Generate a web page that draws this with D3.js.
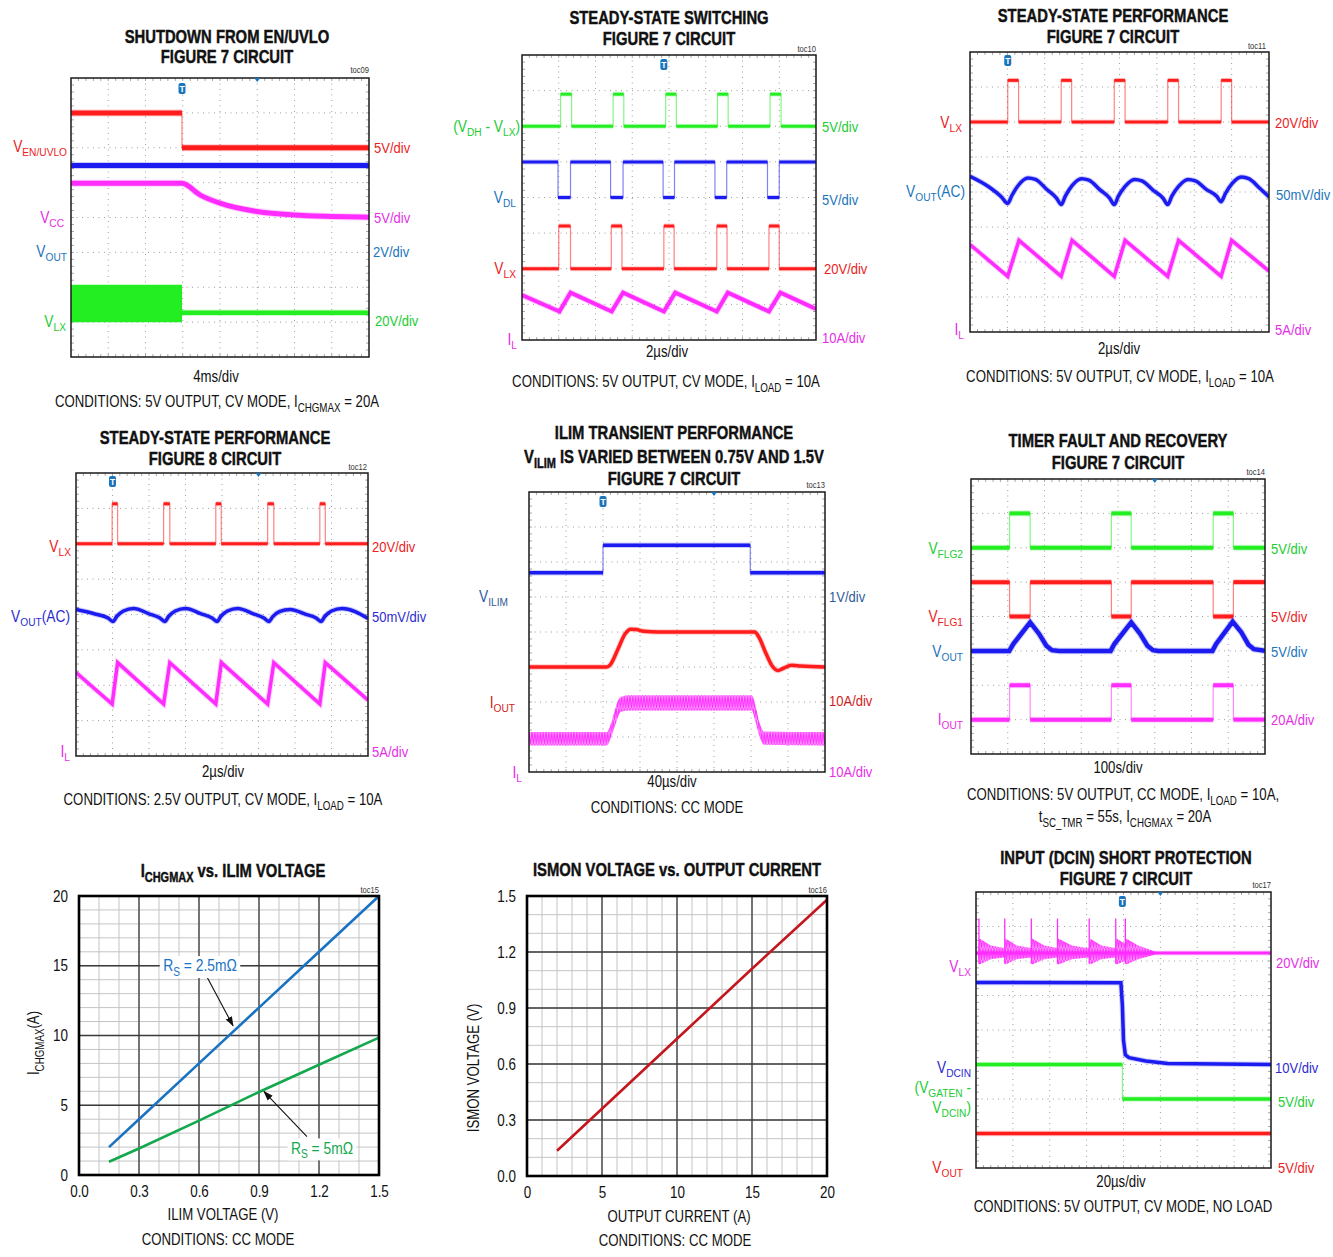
<!DOCTYPE html>
<html>
<head>
<meta charset="utf-8">
<script src="https://cdn.jsdelivr.net/npm/d3@7"></script>
<style>
body{margin:0;background:#fff}
text{font-family:"Liberation Sans",Arial,sans-serif}
</style>
</head>
<body>
<svg id="chart" width="1333" height="1257"></svg>
<script>

// scope traces: [x, y] in divisions, x 0..8 left to right, y 0..8 top to bottom

// toc09 shutdown from EN/UVLO
const toc09_en = [[0,1.0],[2.98,2.0],[8,2.0]]
const toc09_vout = [[0,2.51],[8,2.51]]
const toc09_vcc = [[0,3.02],[2.98,3.02],[3.46,3.35],[4,3.59],[5,3.83],[6,3.93],[7,3.97],[8,3.99]]
const toc09_lxBand = [[0,5.93,7.0],[2.98,5.93,7.0]]
const toc09_lx = [[2.98,6.73],[8,6.73]]

// toc10 steady-state switching
const toc10_dhlx = [[0,2.0],[1.05,1.1],[1.35,2.0],[2.48,1.1],[2.77,2.0],[3.91,1.1],[4.2,2.0],[5.32,1.1],[5.61,2.0],[6.75,1.1],[7.05,2.0],[8,2.0]]
const toc10_dl = [[0,3.0],[0.98,4.0],[1.32,3.0],[2.41,4.0],[2.75,3.0],[3.84,4.0],[4.15,3.0],[5.25,4.0],[5.57,3.0],[6.68,4.0],[7.0,3.0],[8,3.0]]
const toc10_lx = [[0,6.0],[1.0,4.8],[1.32,6.0],[2.43,4.8],[2.72,6.0],[3.86,4.8],[4.14,6.0],[5.3,4.8],[5.58,6.0],[6.72,4.8],[7.0,6.0],[8,6.0]]
const toc10_il = [[0,6.74],[1.02,7.2],[1.32,6.67],[2.44,7.2],[2.75,6.67],[3.86,7.2],[4.17,6.67],[5.3,7.2],[5.6,6.67],[6.72,7.2],[7.03,6.67],[8,7.13]]

// toc11 steady-state performance, figure 7
const toc11_lx = [[0,2.0],[1.01,0.81],[1.3,2.0],[2.44,0.81],[2.72,2.0],[3.86,0.81],[4.15,2.0],[5.29,0.81],[5.58,2.0],[6.72,0.81],[7.0,2.0],[8,2.0]]
const toc11_vout = [[0,3.55],[0.5,3.85],[0.85,4.15],[1.01,4.33],[1.12,4.1],[1.3,3.8],[1.55,3.6],[1.75,3.64],[2.05,3.92],[2.32,4.18],[2.44,4.36],
                    [2.55,4.12],[2.73,3.82],[2.98,3.62],[3.18,3.66],[3.48,3.94],[3.74,4.18],[3.86,4.36],
                    [3.97,4.12],[4.15,3.84],[4.4,3.64],[4.6,3.68],[4.9,3.95],[5.17,4.18],[5.29,4.36],
                    [5.4,4.12],[5.58,3.84],[5.83,3.64],[6.03,3.68],[6.33,3.93],[6.6,4.12],[6.72,4.28],
                    [6.83,4.05],[7.01,3.76],[7.26,3.57],[7.46,3.62],[7.76,3.9],[8,4.14]]
const toc11_il = [[0,5.5],[1.01,6.41],[1.31,5.38],[2.44,6.41],[2.73,5.38],[3.86,6.41],[4.15,5.38],[5.29,6.41],[5.58,5.38],[6.72,6.41],[7.0,5.38],[8,6.26]]

// toc12 steady-state performance, figure 8
const toc12_lx = [[0,2.0],[0.99,0.87],[1.14,2.0],[2.4,0.87],[2.57,2.0],[3.83,0.87],[3.98,2.0],[5.25,0.87],[5.42,2.0],[6.68,0.87],[6.83,2.0],[8,2.0]]
const toc12_vout = [[0,3.86],[0.5,3.98],[0.88,4.1],[1.01,4.2],[1.12,4.05],[1.3,3.9],[1.58,3.83],[2.0,3.98],[2.3,4.1],[2.43,4.2],
                    [2.54,4.05],[2.72,3.9],[3.0,3.83],[3.43,3.98],[3.73,4.1],[3.86,4.2],
                    [3.97,4.05],[4.15,3.9],[4.43,3.83],[4.86,3.98],[5.15,4.1],[5.28,4.2],
                    [5.39,4.06],[5.57,3.92],[5.87,3.86],[6.28,3.99],[6.58,4.1],[6.71,4.2],
                    [6.82,4.05],[7.0,3.9],[7.29,3.83],[8,4.11]]
const toc12_il = [[0,5.64],[0.99,6.53],[1.14,5.36],[2.4,6.53],[2.57,5.36],[3.83,6.53],[3.98,5.36],[5.25,6.53],[5.42,5.36],[6.68,6.53],[6.83,5.36],[8,6.42]]

// toc13 ILIM transient
const toc13_ilim = [[0,2.31],[2.0,1.52],[5.98,2.31],[8,2.31]]
const toc13_iout = [[0,5.0],[2.1,5.0],[2.2,4.93],[2.4,4.5],[2.6,4.05],[2.75,3.92],[2.9,3.93],[3.1,3.98],[3.5,4.0],[6.1,4.0],[6.2,4.12],[6.4,4.6],[6.58,4.98],[6.72,5.1],[6.85,5.05],[7.1,4.95],[7.35,4.97],[8,5.0]]
const toc13_ilBand = [[0,6.86,7.24],[2.1,6.86,7.24],[2.22,6.6,7.0],[2.35,6.12,6.6],[2.48,5.86,6.28],[2.7,5.81,6.24],[6.02,5.81,6.24],[6.12,6.1,6.55],[6.22,6.55,6.95],[6.35,6.84,7.22],[8,6.86,7.24]]

// toc14 timer fault and recovery
const toc14_flg2 = [[0,2.0],[1.05,1.0],[1.61,2.0],[3.82,1.0],[4.36,2.0],[6.59,1.0],[7.14,2.0],[8,2.0]]
const toc14_flg1 = [[0,3.0],[1.05,4.0],[1.61,3.0],[3.82,4.0],[4.36,3.0],[6.59,4.0],[7.14,3.0],[8,3.0]]
const toc14_vout = [[0,5.0],[1.04,5.0],[1.15,4.8],[1.61,4.17],[1.85,4.5],[2.05,4.85],[2.2,4.98],[2.4,5.0],[3.8,5.0],[3.9,4.8],[4.36,4.17],[4.6,4.5],[4.8,4.85],[4.95,4.98],[5.1,5.0],[6.57,5.0],[6.67,4.8],[7.12,4.15],[7.35,4.45],[7.55,4.82],[7.7,4.95],[8,5.0]]
const toc14_iout = [[0,7.0],[1.05,6.0],[1.61,7.0],[3.82,6.0],[4.36,7.0],[6.59,6.0],[7.14,7.0],[8,7.0]]

// toc17 input short protection
const toc17_lxEnv = [[0.05,1.74,1.8],[0.09,1.35,2.1],[0.4,1.55,1.95],[0.77,1.62,1.9],
                     [0.8,1.35,2.1],[1.1,1.55,1.95],[1.49,1.62,1.9],
                     [1.52,1.35,2.1],[1.85,1.55,1.95],[2.2,1.62,1.9],
                     [2.23,1.35,2.1],[2.6,1.55,1.95],[3.06,1.63,1.9],
                     [3.09,1.35,2.1],[3.4,1.55,1.95],[3.78,1.62,1.9],
                     [3.81,1.35,2.1],[4.04,1.5,2.0],
                     [4.07,1.35,2.1],[4.4,1.55,1.95],[4.84,1.72,1.82]]
const toc17_spikes = [0.08,0.78,1.5,2.21,3.07,3.79,4.05]
const toc17_lx = [[0,1.77],[8,1.77]]
const toc17_dcin = [[0,2.62],[3.93,2.63],[3.97,3.3],[4.0,4.3],[4.05,4.72],[4.15,4.8],[4.6,4.9],[5.2,4.97],[8,5.0]]
const toc17_gaten = [[0,5.0],[3.97,6.0],[8,6.0]]
const toc17_vout = [[0,7.0],[8,7.0]]

// toc15 ICHGMAX vs ILIM voltage
const toc15_vilim = [0.15,0.3,0.6,0.9,1.2,1.5]
const toc15_rs25 = [2.0,4.0,8.0,12.0,16.0,20.0]
const toc15_rs5 = [0.95,1.9,3.9,5.95,7.9,9.85]
const toc15_xTicks = [0,0.3,0.6,0.9,1.2,1.5]
const toc15_yTicks = [0,5,10,15,20]

// toc16 ISMON voltage vs output current
const toc16_iout = [2,5,10,15,20]
const toc16_vismon = [0.135,0.36,0.735,1.11,1.48]
const toc16_xTicks = [0,5,10,15,20]
const toc16_yTicks = [0,0.3,0.6,0.9,1.2,1.5]


const RED = "#ff1c1c", BLU = "#1c1cf0", MAG = "#ff2cff", GRN = "#22ee22"
const LRED = "#ec1c24", LMAG = "#e62ee6", LBLU = "#1b75bc", LGRN = "#22cc33",
      LVIO = "#2b2bd0", LSTEEL = "#2f5a9a", LDRED = "#d01c1c"

// the original uses a narrow face; squeeze Liberation Sans horizontally
const NARROW = 0.8

const svg = d3.select("#chart")
const defs = svg.append("defs")

// dense ripple texture for inductor current / ringing
let pat = defs.append("pattern").attr("id", "ripple").attr("patternUnits", "userSpaceOnUse")
        .attr("width", 2.8).attr("height", 12)
pat.append("rect").attr("width", 2.8).attr("height", 12).attr("fill", "#ff9dff")
pat.append("path").attr("d", "M0,0 L1.4,12 L2.8,0").attr("fill", "none")
        .attr("stroke", MAG).attr("stroke-width", 1)

defs.append("marker").attr("id", "arrow").attr("viewBox", "0 0 10 10")
        .attr("refX", 9).attr("refY", 5).attr("markerWidth", 9).attr("markerHeight", 9)
        .attr("orient", "auto-start-reverse")
        .append("path").attr("d", "M0,1.5 L10,5 L0,8.5 z").attr("fill", "#111")


// text with _{subscript} parts
function rich(t, str, size){
        let parts = str.split(/(_\{[^}]*\})/).filter(p => p.length)
        let down = false
        parts.forEach(p => {
                if(p.startsWith("_{")){
                        t.append("tspan").text(p.slice(2, -1))
                         .attr("font-size", size * 0.74)
                         .attr("dy", down ? 0 : size * 0.28)
                        down = true
                }else{
                        t.append("tspan").text(p).attr("dy", down ? -size * 0.28 : 0)
                        down = false
                }
        })
        return t
}

function txt(g, x, y, str, o){
        let rot = o.rotate ? ` rotate(${o.rotate})` : ""
        let wrap = g.append("g").attr("transform", `translate(${x},${y})${rot} scale(${o.sx || NARROW},1)`)
        let t = wrap.append("text")
                .attr("fill", o.color || "#111")
                .attr("font-size", o.size)
                .attr("font-weight", o.weight || "normal")
                .attr("text-anchor", o.anchor || "start")
        if(o.heavy) t.attr("stroke", o.color || "#111").attr("stroke-width", o.heavy)
        rich(t, str, o.size)
        return t
}

function headings(g, c){
        c.titles.forEach(d => txt(g, c.cx, d[1], d[0], {size: 19, weight: "bold", anchor: "middle", sx: 0.78, heavy: 0.45}))
        txt(g, c.toc[0], c.toc[1], c.toc[2], {size: 9.5, anchor: "end", color: "#333"})
        c.notes.forEach(d => txt(g, d[1], d[2], d[0], {size: 16.5, anchor: "middle"}))
}

let clipId = 0

function scope(c){

        let g = svg.append("g")
        let x = d3.scaleLinear().domain([0, 8]).range([c.left, c.right])
        let y = d3.scaleLinear().domain([0, 8]).range([c.top, c.bottom])

        //dotted graticule
        let grid = g.append("g")
        grid.selectAll(".gv").data(d3.range(1, 8)).join("line")
                .attr("x1", d => x(d)).attr("x2", d => x(d))
                .attr("y1", c.top).attr("y2", c.bottom)
        grid.selectAll(".gh").data(d3.range(1, 8)).join("line")
                .attr("y1", d => y(d)).attr("y2", d => y(d))
                .attr("x1", c.left).attr("x2", c.right)
        grid.selectAll("line").attr("stroke", "#9c9c9c").attr("stroke-width", 1)
                .attr("stroke-dasharray", "1,4.5")

        //small ticks along the inner edges
        let minor = d3.range(1, 40).map(i => i / 5)
        let tk = g.append("g").attr("stroke", "#a8a8a8").attr("stroke-width", 1)
        minor.forEach(m => {
                tk.append("line").attr("x1", x(m)).attr("x2", x(m)).attr("y1", c.bottom).attr("y2", c.bottom - 3)
                tk.append("line").attr("x1", x(m)).attr("x2", x(m)).attr("y1", c.top).attr("y2", c.top + 3)
                tk.append("line").attr("y1", y(m)).attr("y2", y(m)).attr("x1", c.left).attr("x2", c.left + 3)
                tk.append("line").attr("y1", y(m)).attr("y2", y(m)).attr("x1", c.right).attr("x2", c.right - 3)
        })

        let id = "clip" + (clipId++)
        defs.append("clipPath").attr("id", id).append("rect")
                .attr("x", c.left).attr("y", c.top)
                .attr("width", c.right - c.left).attr("height", c.bottom - c.top)
        let plot = g.append("g").attr("clip-path", `url(#${id})`)

        ;(c.bands || []).forEach(b => {
                let area = d3.area().x(d => x(d[0])).y0(d => y(d[1])).y1(d => y(d[2]))
                        .curve(b.curve || d3.curveLinear)
                plot.append("path").attr("d", area(b.data)).attr("fill", b.fill)
        })

        ;(c.spikes || []).forEach(s => {
                let line = d3.line().x(d => x(d[0])).y(d => y(d[1]))
                s.data.forEach(v => {
                        plot.append("path").attr("d", line([[v, s.from], [v, s.to]]))
                                .attr("stroke", s.color).attr("stroke-width", 1.3)
                })
        })

        c.traces.forEach(t => {
                let line = d3.line().x(d => x(d[0])).y(d => y(d[1])).curve(t.curve || d3.curveLinear)
                let w = t.w || 3
                if(t.curve === d3.curveStepAfter){
                        //fast edges are drawn faint, the levels thick
                        plot.append("path").attr("d", line(t.data)).attr("fill", "none")
                                .attr("stroke", t.color).attr("stroke-width", 1.2).attr("stroke-opacity", 0.55)
                        let flat = d3.line().x(d => x(d[0])).y(d => y(d[1]))
                        t.data.slice(0, -1).forEach((d, i) => {
                                let seg = [[d[0], d[1]], [t.data[i + 1][0], d[1]]]
                                plot.append("path").attr("d", flat(seg)).attr("fill", "none")
                                        .attr("stroke", t.color).attr("stroke-width", w + 2).attr("stroke-opacity", 0.22)
                                plot.append("path").attr("d", flat(seg)).attr("fill", "none")
                                        .attr("stroke", t.color).attr("stroke-width", w)
                        })
                        return
                }
                plot.append("path").attr("d", line(t.data)).attr("fill", "none")
                        .attr("stroke", t.color).attr("stroke-width", w + 2).attr("stroke-opacity", 0.22)
                plot.append("path").attr("d", line(t.data)).attr("fill", "none")
                        .attr("stroke", t.color).attr("stroke-width", w)
        })

        g.append("rect")
                .attr("x", c.left).attr("y", c.top)
                .attr("width", c.right - c.left).attr("height", c.bottom - c.top)
                .attr("fill", "none").attr("stroke", "#1a1a1a").attr("stroke-width", 1.5)

        //trigger badge
        if(c.trig){
                let tx = x(c.trig[0]), ty = c.trig[1]
                g.append("rect").attr("x", tx - 3.5).attr("y", ty - 6).attr("width", 7).attr("height", 11)
                        .attr("rx", 2).attr("fill", LBLU)
                g.append("text").attr("x", tx).attr("y", ty + 3).attr("text-anchor", "middle")
                        .attr("font-size", 8.5).attr("font-weight", "bold").attr("fill", "#fff").text("T")
        }
        if(c.mark){
                let mx = x(5)
                g.append("path").attr("d", `M${mx - 3},${c.top} L${mx + 3},${c.top} L${mx},${c.top + 4} z`)
                        .attr("fill", LBLU)
        }

        c.leftLabels.forEach(d => txt(g, d[1], d[2], d[0], {size: 16, anchor: "end", color: d[3], sx: 0.86}))
        c.rightLabels.forEach(d => txt(g, d[1], d[2], d[0], {size: 15.5, color: d[3], sx: 0.84}))

        headings(g, c)
}


function xyChart(c){

        let g = svg.append("g")
        let x = d3.scaleLinear().domain(c.xDomain).range([c.left, c.right])
        let y = d3.scaleLinear().domain(c.yDomain).range([c.bottom, c.top])

        let xMinor = d3.range(c.xDomain[0], c.xDomain[1] + 1e-9, c.xStep)
        let yMinor = d3.range(c.yDomain[0], c.yDomain[1] + 1e-9, c.yStep)

        g.append("g").selectAll("line").data(xMinor).join("line")
                .attr("x1", d => x(d)).attr("x2", d => x(d)).attr("y1", c.top).attr("y2", c.bottom)
                .attr("stroke", "#c4c4c4").attr("stroke-width", 1)
        g.append("g").selectAll("line").data(yMinor).join("line")
                .attr("y1", d => y(d)).attr("y2", d => y(d)).attr("x1", c.left).attr("x2", c.right)
                .attr("stroke", "#c4c4c4").attr("stroke-width", 1)

        g.append("g").selectAll("line").data(c.xTicks).join("line")
                .attr("x1", d => x(d)).attr("x2", d => x(d)).attr("y1", c.top).attr("y2", c.bottom)
                .attr("stroke", "#3a3a3a").attr("stroke-width", 1.3)
        g.append("g").selectAll("line").data(c.yTicks).join("line")
                .attr("y1", d => y(d)).attr("y2", d => y(d)).attr("x1", c.left).attr("x2", c.right)
                .attr("stroke", "#3a3a3a").attr("stroke-width", 1.3)

        c.series.forEach(s => {
                let pts = s.x.map((v, i) => [v, s.y[i]])
                g.append("path")
                        .attr("d", d3.line().x(d => x(d[0])).y(d => y(d[1]))(pts))
                        .attr("fill", "none").attr("stroke", s.color).attr("stroke-width", 2.6)
        })

        g.append("rect")
                .attr("x", c.left).attr("y", c.top)
                .attr("width", c.right - c.left).attr("height", c.bottom - c.top)
                .attr("fill", "none").attr("stroke", "#000").attr("stroke-width", 2.6)

        //tick labels through the d3 axes, then squeezed like the rest of the text
        let xa = g.append("g").attr("transform", `translate(0,${c.bottom})`)
                .call(d3.axisBottom(x).tickValues(c.xTicks).tickSize(0).tickPadding(11).tickFormat(c.xFmt))
        let ya = g.append("g").attr("transform", `translate(${c.left},0)`)
                .call(d3.axisLeft(y).tickValues(c.yTicks).tickSize(0).tickPadding(11).tickFormat(c.yFmt))
        ;[xa, ya].forEach(a => {
                a.select(".domain").remove()
                a.selectAll("text").attr("font-size", 16).attr("fill", "#111")
                        .attr("font-family", "Liberation Sans, Arial, sans-serif")
                a.selectAll(".tick").each(function(){
                        let t = d3.select(this).select("text")
                        let tx = +t.attr("x") || 0
                        t.attr("transform", `translate(${tx},0) scale(0.84,1) translate(${-tx},0)`)
                })
        })

        ;(c.notesIn || []).forEach(n => {
                if(n.arrow){
                        g.append("line")
                                .attr("x1", x(n.arrow[0])).attr("y1", y(n.arrow[1]))
                                .attr("x2", x(n.arrow[2])).attr("y2", y(n.arrow[3]))
                                .attr("stroke", "#111").attr("stroke-width", 1.1)
                                .attr("marker-end", "url(#arrow)")
                }
                let t = txt(g, x(n.at[0]), y(n.at[1]) + 5.5, n.text, {size: 16.5, anchor: "middle", color: n.color, sx: 0.84})
                let b = t.node().getBBox()
                d3.select(t.node().parentNode).insert("rect", () => t.node())
                        .attr("x", b.x - 4).attr("y", b.y).attr("width", b.width + 8).attr("height", b.height)
                        .attr("fill", "#fff")
        })

        txt(g, c.xTitle[1], c.xTitle[2], c.xTitle[0], {size: 16.5, anchor: "middle"})
        txt(g, c.yTitle[1], c.yTitle[2], c.yTitle[0], {size: 16.5, anchor: "middle", rotate: -90})

        headings(g, c)
}


scope({
        left: 71, right: 369, top: 78, bottom: 357, cx: 227,
        titles: [["SHUTDOWN FROM EN/UVLO", 43], ["FIGURE 7 CIRCUIT", 63]],
        toc: [369, 73, "toc09"],
        notes: [["4ms/div", 216, 382], ["CONDITIONS: 5V OUTPUT, CV MODE, I_{CHGMAX} = 20A", 217, 407]],
        trig: [2.98, 89], mark: true,
        bands: [{data: toc09_lxBand, fill: GRN}],
        traces: [
                {data: toc09_en, color: RED, w: 5, curve: d3.curveStepAfter},
                {data: toc09_vout, color: BLU, w: 5},
                {data: toc09_vcc, color: MAG, w: 5, curve: d3.curveMonotoneX},
                {data: toc09_lx, color: GRN, w: 4.5}
        ],
        leftLabels: [["V_{EN/UVLO}", 67, 152, LRED], ["V_{CC}", 64, 223, LMAG], ["V_{OUT}", 67, 257, LBLU], ["V_{LX}", 66, 327, LGRN]],
        rightLabels: [["5V/div", 374, 153, LRED], ["5V/div", 374, 223, LMAG], ["2V/div", 373, 257, LBLU], ["20V/div", 375, 326, LGRN]]
})

scope({
        left: 522, right: 816, top: 55, bottom: 340, cx: 669,
        titles: [["STEADY-STATE SWITCHING", 24], ["FIGURE 7 CIRCUIT", 45]],
        toc: [816, 52, "toc10"],
        notes: [["2µs/div", 667, 357], ["CONDITIONS: 5V OUTPUT, CV MODE, I_{LOAD} = 10A", 666, 387]],
        trig: [3.86, 65],
        traces: [
                {data: toc10_dhlx, color: GRN, w: 3, curve: d3.curveStepAfter},
                {data: toc10_dl, color: BLU, w: 3, curve: d3.curveStepAfter},
                {data: toc10_lx, color: RED, w: 3, curve: d3.curveStepAfter},
                {data: toc10_il, color: MAG, w: 4}
        ],
        leftLabels: [["(V_{DH} - V_{LX})", 520, 132, LGRN], ["V_{DL}", 516, 203, LBLU], ["V_{LX}", 516, 274, LRED], ["I_{L}", 517, 345, LMAG]],
        rightLabels: [["5V/div", 822, 132, LGRN], ["5V/div", 822, 205, LBLU], ["20V/div", 824, 274, LRED], ["10A/div", 822, 343, LMAG]]
})

scope({
        left: 970, right: 1269, top: 52, bottom: 332, cx: 1113,
        titles: [["STEADY-STATE PERFORMANCE", 22], ["FIGURE 7 CIRCUIT", 43]],
        toc: [1266, 49, "toc11"],
        notes: [["2µs/div", 1119, 354], ["CONDITIONS: 5V OUTPUT, CV MODE, I_{LOAD} = 10A", 1120, 382]],
        trig: [1.01, 61],
        traces: [
                {data: toc11_lx, color: RED, w: 3, curve: d3.curveStepAfter},
                {data: toc11_vout, color: BLU, w: 3.5, curve: d3.curveMonotoneX},
                {data: toc11_il, color: MAG, w: 3.5}
        ],
        leftLabels: [["V_{LX}", 962, 128, LRED], ["V_{OUT}(AC)", 965, 197, LBLU], ["I_{L}", 964, 335, LMAG]],
        rightLabels: [["20V/div", 1275, 128, LRED], ["50mV/div", 1276, 200, LBLU], ["5A/div", 1275, 335, LMAG]]
})

scope({
        left: 76, right: 368, top: 473, bottom: 756, cx: 215,
        titles: [["STEADY-STATE PERFORMANCE", 444], ["FIGURE 8 CIRCUIT", 465]],
        toc: [367, 470, "toc12"],
        notes: [["2µs/div", 223, 777], ["CONDITIONS: 2.5V OUTPUT, CV MODE, I_{LOAD} = 10A", 223, 805]],
        trig: [1.0, 482], mark: true,
        traces: [
                {data: toc12_lx, color: RED, w: 3, curve: d3.curveStepAfter},
                {data: toc12_vout, color: BLU, w: 3.5, curve: d3.curveMonotoneX},
                {data: toc12_il, color: MAG, w: 3.5}
        ],
        leftLabels: [["V_{LX}", 71, 552, LRED], ["V_{OUT}(AC)", 70, 622, LVIO], ["I_{L}", 70, 757, LMAG]],
        rightLabels: [["20V/div", 372, 552, LRED], ["50mV/div", 372, 622, LVIO], ["5A/div", 372, 757, LMAG]]
})

scope({
        left: 529, right: 825, top: 492, bottom: 772, cx: 674,
        titles: [["ILIM TRANSIENT PERFORMANCE", 439], ["V_{ILIM} IS VARIED BETWEEN 0.75V AND 1.5V", 463], ["FIGURE 7 CIRCUIT", 485]],
        toc: [825, 488, "toc13"],
        notes: [["40µs/div", 672, 787], ["CONDITIONS: CC MODE", 667, 813]],
        trig: [2.0, 502], mark: true,
        bands: [{data: toc13_ilBand, fill: "url(#ripple)", curve: d3.curveMonotoneX}],
        traces: [
                {data: toc13_ilim, color: BLU, w: 3.5, curve: d3.curveStepAfter},
                {data: toc13_iout, color: RED, w: 3.5, curve: d3.curveMonotoneX}
        ],
        leftLabels: [["V_{ILIM}", 508, 602, LSTEEL], ["I_{OUT}", 515, 708, LDRED], ["I_{L}", 522, 778, LMAG]],
        rightLabels: [["1V/div", 829, 602, LSTEEL], ["10A/div", 829, 706, LDRED], ["10A/div", 829, 777, LMAG]]
})

scope({
        left: 971, right: 1265, top: 479, bottom: 754, cx: 1118,
        titles: [["TIMER FAULT AND RECOVERY", 447], ["FIGURE 7 CIRCUIT", 469]],
        toc: [1265, 475, "toc14"],
        notes: [["100s/div", 1118, 773], ["CONDITIONS: 5V OUTPUT, CC MODE, I_{LOAD} = 10A,", 1123, 800],
                ["t_{SC_TMR} = 55s, I_{CHGMAX} = 20A", 1125, 822]],
        mark: true,
        traces: [
                {data: toc14_flg2, color: GRN, w: 4, curve: d3.curveStepAfter},
                {data: toc14_flg1, color: RED, w: 4, curve: d3.curveStepAfter},
                {data: toc14_vout, color: BLU, w: 4.5},
                {data: toc14_iout, color: MAG, w: 4, curve: d3.curveStepAfter}
        ],
        leftLabels: [["V_{FLG2}", 963, 554, LGRN], ["V_{FLG1}", 963, 622, LRED], ["V_{OUT}", 963, 657, LBLU], ["I_{OUT}", 963, 725, LMAG]],
        rightLabels: [["5V/div", 1271, 554, LGRN], ["5V/div", 1271, 622, LRED], ["5V/div", 1271, 657, LBLU], ["20A/div", 1271, 725, LMAG]]
})

scope({
        left: 976, right: 1271, top: 892, bottom: 1168, cx: 1126,
        titles: [["INPUT (DCIN) SHORT PROTECTION", 864], ["FIGURE 7 CIRCUIT", 885]],
        toc: [1271, 888, "toc17"],
        notes: [["20µs/div", 1121, 1187], ["CONDITIONS: 5V OUTPUT, CV MODE, NO LOAD", 1123, 1212]],
        trig: [3.97, 902], mark: true,
        bands: [{data: toc17_lxEnv, fill: "url(#ripple)"}],
        spikes: [{data: toc17_spikes, from: 2.08, to: 0.77, color: MAG}],
        traces: [
                {data: toc17_lx, color: MAG, w: 3},
                {data: toc17_dcin, color: BLU, w: 3.5},
                {data: toc17_gaten, color: GRN, w: 3.5, curve: d3.curveStepAfter},
                {data: toc17_vout, color: RED, w: 3.5}
        ],
        leftLabels: [["V_{LX}", 971, 972, LMAG], ["V_{DCIN}", 971, 1073, LVIO], ["(V_{GATEN} -", 971, 1093, LGRN],
                     ["V_{DCIN})", 971, 1113, LGRN], ["V_{OUT}", 963, 1173, LRED]],
        rightLabels: [["20V/div", 1276, 968, LMAG], ["10V/div", 1275, 1073, LVIO], ["5V/div", 1278, 1107, LGRN], ["5V/div", 1278, 1173, LRED]]
})

xyChart({
        left: 79, right: 379, top: 896, bottom: 1175, cx: 233,
        xDomain: [0, 1.5], yDomain: [0, 20], xStep: 0.1, yStep: 1,
        xTicks: toc15_xTicks, yTicks: toc15_yTicks,
        xFmt: d3.format(".1f"), yFmt: d3.format("d"),
        series: [
                {x: toc15_vilim, y: toc15_rs25, color: "#1a72c2"},
                {x: toc15_vilim, y: toc15_rs5, color: "#14a84e"}
        ],
        notesIn: [
                {text: "R_{S} = 2.5mΩ", at: [0.605, 15], color: "#1a72c2", arrow: [0.64, 14.2, 0.77, 10.7]},
                {text: "R_{S} = 5mΩ", at: [1.215, 1.93], color: "#14a84e", arrow: [1.14, 2.75, 0.925, 5.98]}
        ],
        titles: [["I_{CHGMAX} vs. ILIM VOLTAGE", 877]],
        toc: [379, 893, "toc15"],
        xTitle: ["ILIM VOLTAGE (V)", 223, 1220],
        yTitle: ["I_{CHGMAX}(A)", 39, 1043],
        notes: [["CONDITIONS: CC MODE", 218, 1245]]
})

xyChart({
        left: 527, right: 827, top: 896, bottom: 1176, cx: 677,
        xDomain: [0, 20], yDomain: [0, 1.5], xStep: 1, yStep: 0.1,
        xTicks: toc16_xTicks, yTicks: toc16_yTicks,
        xFmt: d3.format("d"), yFmt: d3.format(".1f"),
        series: [{x: toc16_iout, y: toc16_vismon, color: "#c4161c"}],
        titles: [["ISMON VOLTAGE vs. OUTPUT CURRENT", 876]],
        toc: [827, 893, "toc16"],
        xTitle: ["OUTPUT CURRENT (A)", 679, 1222],
        yTitle: ["ISMON VOLTAGE (V)", 479, 1068],
        notes: [["CONDITIONS: CC MODE", 675, 1246]]
})

</script>
</body>
</html>
